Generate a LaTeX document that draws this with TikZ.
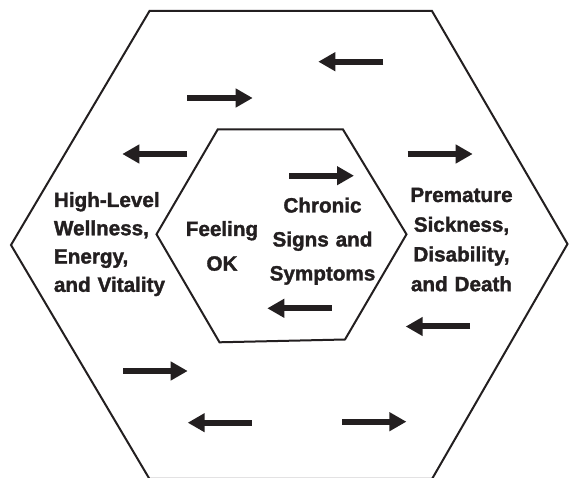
\documentclass[tikz,border=0pt]{standalone}
\usepackage{fontspec}
\setmainfont{Liberation Sans}[BoldFeatures={FakeBold=1.6}]
\usetikzlibrary{arrows.meta}
\definecolor{ink}{RGB}{35,31,32}
\begin{document}
\begin{tikzpicture}[x=0.75pt,y=-0.75pt,
  hexline/.style={draw=ink, line width=1.5pt, line join=miter},
  flowarrow/.style={draw=ink, line width=4.5pt, -{Triangle[length=12.75pt,width=13.5pt]}},
  blocktext/.style={font=\bfseries\fontsize{15.5pt}{#1}\selectfont, text=ink, inner sep=0pt}
]
\useasboundingbox (0,0) rectangle (569,478);
\clip (0,0) rectangle (569,478);
\fill[white] (0,0) rectangle (569,478);

% outer hexagon
\draw[hexline] (149.5,11) -- (432,11) -- (567.5,244) -- (432,479) -- (149.5,479) -- (11,245) -- cycle;
% inner hexagon
\draw[hexline] (217.7,129.5) -- (343,129.5) -- (406.5,234.3) -- (345,339.5) -- (219.5,342.3) -- (156.5,234.3) -- cycle;

% texts
\node[blocktext=21.2pt, text width=90pt, align=left, anchor=base west] (wellness) at (53.7,207)
  {High-Level\\Wellness,\\Energy,\\and Vitality};
\node[blocktext=22.3pt, text width=90pt, align=center, anchor=base] (death) at (461.5,202)
  {Premature\\Sickness,\\Disability,\\and Death};
\node[blocktext=25.5pt, text width=90pt, align=center, anchor=base] (chronic) at (322.5,212.5)
  {Chronic\\Signs and\\Symptoms};
\node[blocktext=26pt, text width=60pt, align=center, anchor=base] (ok) at (222,236)
  {Feeling\\OK};

% arrows
\draw[flowarrow] (383.3,61.7) -- (318.3,61.7);
\draw[flowarrow] (187.3,98) -- (252.7,98);
\draw[flowarrow] (187.3,154) -- (122.3,154);
\draw[flowarrow] (289.3,175.7) -- (354,175.7);
\draw[flowarrow] (407.7,154) -- (472.7,154);
\draw[flowarrow] (331.7,308.3) -- (267.3,308.3);
\draw[flowarrow] (470,326.5) -- (405.7,326.5);
\draw[flowarrow] (123.3,371) -- (187.7,371);
\draw[flowarrow] (251.5,422.7) -- (187.7,422.7);
\draw[flowarrow] (342.2,421.7) -- (406.4,421.7);
\end{tikzpicture}
\end{document}
